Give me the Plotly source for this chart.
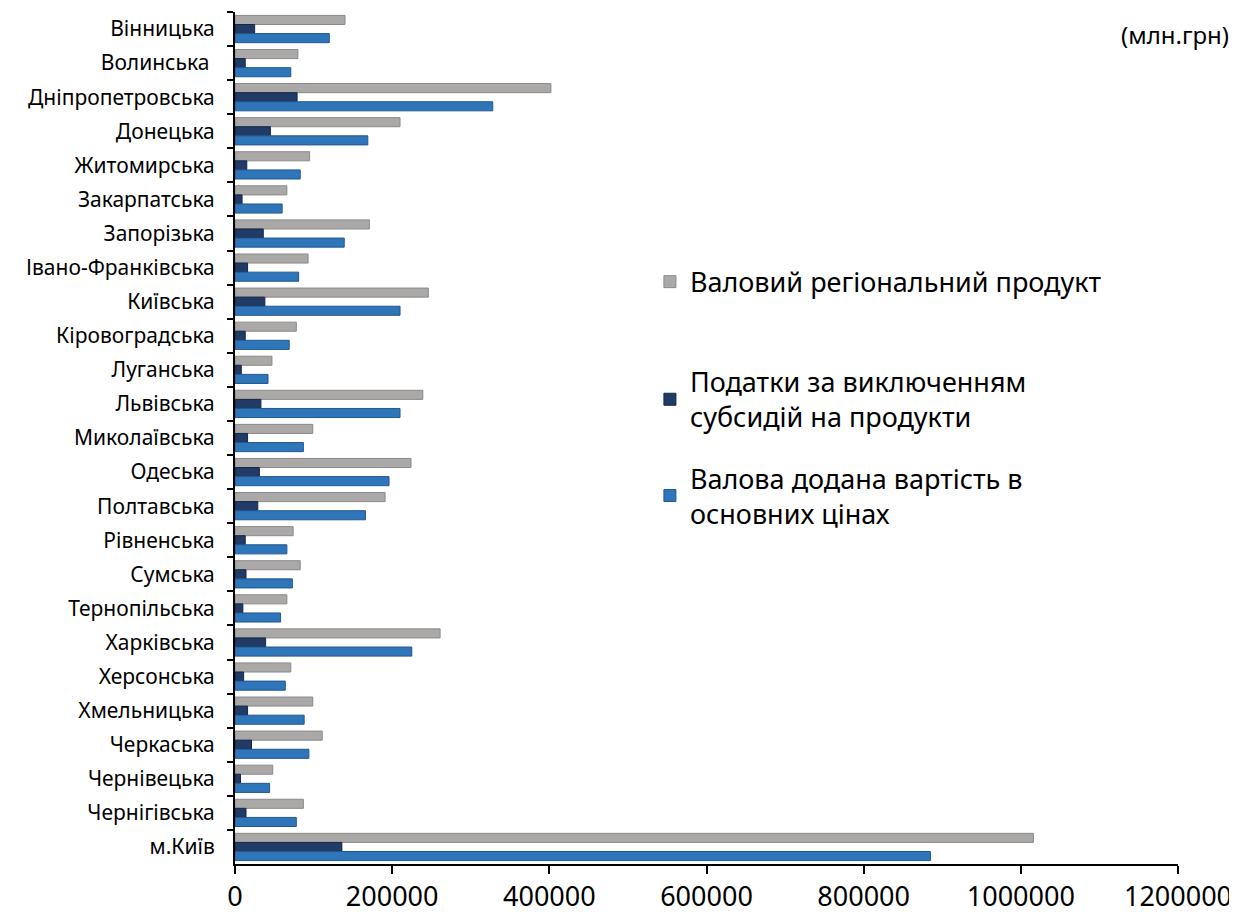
import plotly.graph_objects as go

regions = ["Вінницька", "Волинська ", "Дніпропетровська", "Донецька", "Житомирська",
           "Закарпатська", "Запорізька", "Івано-Франківська", "Київська", "Кіровоградська",
           "Луганська", "Львівська", "Миколаївська", "Одеська", "Полтавська",
           "Рівненська", "Сумська", "Тернопільська", "Харківська", "Херсонська",
           "Хмельницька", "Черкаська", "Чернівецька", "Чернігівська", "м.Київ"]

grp = [140000, 80000, 402000, 210000, 95000, 66000, 171000, 93000, 246000, 78000,
       47000, 239000, 99000, 224000, 191000, 74000, 83000, 66000, 261000, 71000,
       99000, 111000, 48000, 87000, 1016000]
taxes = [25000, 13000, 79000, 45000, 15000, 9000, 36000, 16000, 38000, 13000,
         8000, 33000, 16000, 31000, 29000, 13000, 14000, 10000, 39000, 11000,
         16000, 21000, 7000, 14000, 136000]
gva = [120000, 71000, 328000, 169000, 83000, 60000, 139000, 81000, 210000, 69000,
       42000, 210000, 87000, 196000, 166000, 66000, 73000, 58000, 225000, 64000,
       88000, 94000, 44000, 78000, 885000]

names = ["Валовий регіональний продукт",
         "Податки за виключенням<br>субсидій на продукти",
         "Валова додана вартість в<br>основних цінах"]
colors = ["#ABA8A8", "#213A66", "#2F75B9"]
edges = ["#8C8989", "#152947", "#23588C"]
x_ticks = [0, 200000, 400000, 600000, 800000, 1000000, 1200000]

legend_ids = ["legend", "legend2", "legend3"]
legend_y = [0.683, 0.545, 0.432]

fig = go.Figure()
for i, (vals, nm) in enumerate(zip([grp, taxes, gva], names)):
    fig.add_trace(go.Bar(
        y=regions, x=vals, orientation="h", name=nm,
        marker=dict(color=colors[i], line=dict(color=edges[i], width=1)),
        legend=legend_ids[i], showlegend=True,
    ))

leg_common = dict(x=0.44, xanchor="left", yanchor="middle",
                  font=dict(size=27, color="black"), itemwidth=30,
                  bgcolor="rgba(0,0,0,0)", visible=True)
fig.update_layout(
    width=1229, height=915,
    margin=dict(l=227, r=59, t=4, b=59),
    paper_bgcolor="white", plot_bgcolor="white",
    barmode="group", bargap=0.2, bargroupgap=0.0,
    showlegend=True,
    font=dict(family="Noto Sans", color="black"),
    legend=dict(y=legend_y[0], **leg_common),
    legend2=dict(y=legend_y[1], **leg_common),
    legend3=dict(y=legend_y[2], **leg_common),
    annotations=[dict(text="(млн.грн)", x=1.0, y=1.0, xref="paper", yref="paper",
                      xanchor="right", yanchor="top", xshift=53, yshift=-4,
                      showarrow=False, font=dict(size=24, color="black"))],
)
fig.update_xaxes(range=[0, 1200000], tickvals=x_ticks,
                 ticktext=[str(v) for v in x_ticks],
                 showline=True, linecolor="black", linewidth=2,
                 ticks="outside", ticklen=8, tickwidth=2, tickcolor="black",
                 showgrid=False, zeroline=False, tickfont=dict(size=27),
                 automargin=False)
fig.update_yaxes(autorange="reversed", showline=True, linecolor="black", linewidth=2,
                 ticks="outside", ticklen=6, tickwidth=2, tickcolor="black",
                 tickson="boundaries", showgrid=False, tickfont=dict(size=21),
                 ticklabelstandoff=14, automargin=False)

fig.write_html("out.html")
